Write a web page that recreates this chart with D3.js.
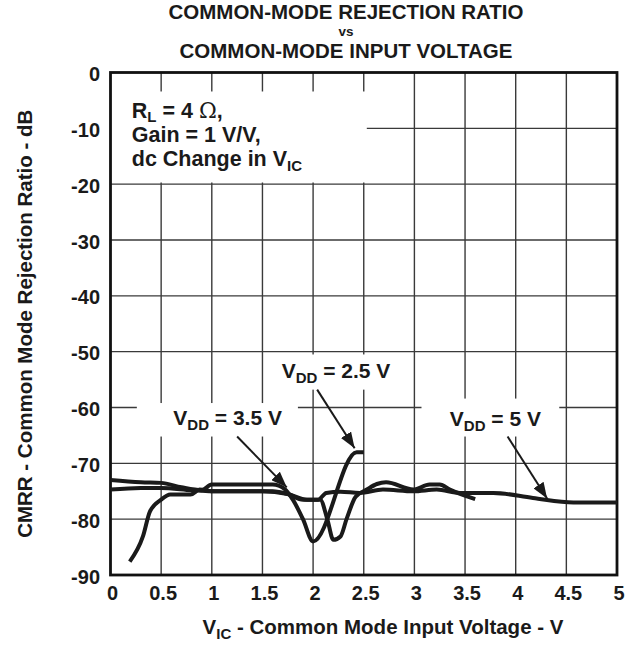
<!doctype html>
<html lang='en'>

<head>
    <meta charset='UTF-8'>
    <title>CMRR vs Common-Mode Input Voltage</title>
    <style>
        html,
        body {
            margin: 0;
            background: #fff;
        }

        svg {
            display: block;
        }

        text {
            font-family: "Liberation Sans", Arial, Helvetica, sans-serif;
            font-weight: bold;
            fill: #1a1a1a;
        }
    </style>
</head>

<body>
    <script src='https://d3js.org/d3.v7.min.js'></script>
    <div class='chart'></div>
    <script>
        // Axis ticks
        const xTicks = [0, 0.5, 1, 1.5, 2, 2.5, 3, 3.5, 4, 4.5, 5];
        const xTickLabels = ['0', '0.5', '1', '1.5', '2', '2.5', '3', '3.5', '4', '4.5', '5'];
        const yTicks = [0, -10, -20, -30, -40, -50, -60, -70, -80, -90];
        const yTickLabels = ['0', '-10', '-20', '-30', '-40', '-50', '-60', '-70', '-80', '-90'];

        // Curves: [V_IC (V), CMRR (dB)]
        const vdd25 = [
            [0, -73.0], [0.3, -73.4], [0.5, -73.5], [0.7, -74.3], [0.9, -74.8],
            [1.0, -73.8], [1.6, -73.8], [1.72, -74.6], [1.8, -76.5], [1.9, -80.0],
            [2.0, -84.0], [2.43, -68.0], [2.5, -68.0]
        ];
        const vdd35 = [
            [0, -74.7], [0.3, -74.4], [0.5, -74.4], [0.8, -74.8], [1.0, -75.0],
            [1.6, -75.0], [1.75, -75.5], [1.9, -76.5], [2.07, -76.5], [2.14, -80.0],
            [2.2, -83.7], [2.27, -83.1], [2.33, -80.0], [2.42, -76.0], [2.53, -74.7],
            [2.63, -73.7], [2.72, -73.4], [2.99, -74.7], [3.15, -73.8], [3.25, -73.8],
            [3.35, -74.7], [3.6, -76.4]
        ];
        const vdd5 = [
            [0.19, -87.6], [0.32, -83.1], [0.39, -78.6], [0.5, -76.5], [0.59, -75.6],
            [0.79, -75.6], [0.88, -74.7], [1.0, -75.0], [1.5, -75.0], [1.75, -75.5],
            [1.94, -76.5], [2.05, -76.5], [2.13, -75.3], [2.27, -75.1], [2.46, -75.3],
            [2.69, -74.7], [2.99, -75.0], [3.22, -74.7], [3.45, -75.3], [3.78, -75.3],
            [4.17, -76.2], [4.57, -77.0], [5.0, -77.0]
        ];

        const config = {
            width: 638,
            height: 646,
            plot: { left: 110.5, right: 617, top: 72.5, bottom: 575 },
            gridColor: '#3a3a3a',
            lineColor: '#1a1a1a',
            subSize: '15px'
        };

        const svg = d3.select('.chart')
            .append('svg')
            .attr('width', config.width)
            .attr('height', config.height);

        const x = d3.scaleLinear().domain([0, 5]).range([config.plot.left, config.plot.right]);
        const y = d3.scaleLinear().domain([-90, 0]).range([config.plot.bottom, config.plot.top]);

        // arrow head
        svg.append('defs').append('marker')
            .attr('id', 'arrow')
            .attr('markerUnits', 'userSpaceOnUse')
            .attr('viewBox', '0 -6 16 12')
            .attr('refX', 16)
            .attr('refY', 0)
            .attr('markerWidth', 16)
            .attr('markerHeight', 12)
            .attr('orient', 'auto')
            .append('path')
            .attr('d', 'M0,-6L16,0L0,6Z')
            .attr('fill', config.lineColor);

        // grid
        const grid = svg.append('g');
        grid.selectAll('.vgrid')
            .data(xTicks.slice(1, -1))
            .enter().append('line')
            .attr('x1', (d) => x(d)).attr('x2', (d) => x(d))
            .attr('y1', y(0)).attr('y2', y(-90))
            .attr('stroke', config.gridColor)
            .attr('stroke-width', 1.4);
        grid.selectAll('.hgrid')
            .data(yTicks.slice(1, -1))
            .enter().append('line')
            .attr('x1', x(0)).attr('x2', x(5))
            .attr('y1', (d) => y(d)).attr('y2', (d) => y(d))
            .attr('stroke', config.gridColor)
            .attr('stroke-width', 1.4);

        // white boxes behind the notes (data units)
        const boxes = [
            { x0: 0, x1: 2.53, y0: -3.4, y1: -19.7 },
            { x0: 1.63, x1: 2.86, y0: -50.5, y1: -56.8 },
            { x0: 0.26, x1: 1.85, y0: -59.2, y1: -65.2 },
            { x0: 3.07, x1: 4.43, y0: -58.4, y1: -65.2 }
        ];
        svg.append('g').selectAll('rect')
            .data(boxes)
            .enter().append('rect')
            .attr('x', (d) => x(d.x0))
            .attr('y', (d) => y(d.y0))
            .attr('width', (d) => x(d.x1) - x(d.x0))
            .attr('height', (d) => y(d.y1) - y(d.y0))
            .attr('fill', '#fff');

        // frame
        svg.append('rect')
            .attr('x', x(0)).attr('y', y(0))
            .attr('width', x(5) - x(0)).attr('height', y(-90) - y(0))
            .attr('fill', 'none')
            .attr('stroke', '#111')
            .attr('stroke-width', 2.8);

        // curves
        const line = d3.line()
            .x((d) => x(d[0]))
            .y((d) => y(d[1]))
            .curve(d3.curveMonotoneX);

        svg.append('g').selectAll('path')
            .data([vdd5, vdd35, vdd25])
            .enter().append('path')
            .attr('d', (d) => line(d))
            .attr('fill', 'none')
            .attr('stroke', config.lineColor)
            .attr('stroke-width', 4)
            .attr('stroke-linejoin', 'round')
            .attr('stroke-linecap', 'butt');

        // leader arrows (data units)
        const arrows = [
            { from: [2.04, -56.8], to: [2.41, -67.3] },
            { from: [1.25, -65.2], to: [1.74, -74.3] },
            { from: [3.92, -65.2], to: [4.31, -76.3] }
        ];
        svg.append('g').selectAll('line')
            .data(arrows)
            .enter().append('line')
            .attr('x1', (d) => x(d.from[0])).attr('y1', (d) => y(d.from[1]))
            .attr('x2', (d) => x(d.to[0])).attr('y2', (d) => y(d.to[1]))
            .attr('stroke', config.lineColor)
            .attr('stroke-width', 2)
            .attr('marker-end', 'url(#arrow)');

        // tick labels
        svg.append('g').selectAll('text')
            .data(xTicks)
            .enter().append('text')
            .attr('x', (d) => x(d) + 2)
            .attr('y', 600)
            .attr('text-anchor', 'middle')
            .style('font-size', '20px')
            .text((d, i) => xTickLabels[i]);

        svg.append('g').selectAll('text')
            .data(yTicks)
            .enter().append('text')
            .attr('x', 100)
            .attr('y', (d) => y(d) + 8.5)
            .attr('text-anchor', 'end')
            .style('font-size', '20px')
            .text((d, i) => yTickLabels[i]);

        // title
        const title = svg.append('g').attr('text-anchor', 'middle');
        title.append('text').attr('x', 346).attr('y', 18.5)
            .style('font-size', '20.5px').text('COMMON-MODE REJECTION RATIO');
        title.append('text').attr('x', 346).attr('y', 36)
            .style('font-size', '13.5px').text('vs');
        title.append('text').attr('x', 346).attr('y', 57.5)
            .style('font-size', '20.5px').text('COMMON-MODE INPUT VOLTAGE');

        // axis titles
        const xTitle = svg.append('text')
            .attr('x', 383).attr('y', 634)
            .attr('text-anchor', 'middle')
            .style('font-size', '20.5px');
        xTitle.append('tspan').text('V');
        xTitle.append('tspan').attr('dy', 5).style('font-size', config.subSize).text('IC');
        xTitle.append('tspan').attr('dy', -5).text(' - Common Mode Input Voltage - V');

        svg.append('text')
            .attr('transform', 'translate(32,' + (y(-45)) + ') rotate(-90)')
            .attr('text-anchor', 'middle')
            .style('font-size', '20.5px')
            .text('CMRR - Common Mode Rejection Ratio - dB');

        // conditions note
        const note = svg.append('g').style('font-size', '21.5px');
        const rl = note.append('text').attr('x', x(0.21)).attr('y', y(-8.1));
        rl.append('tspan').text('R');
        rl.append('tspan').attr('dy', 4).style('font-size', config.subSize).text('L');
        rl.append('tspan').attr('dy', -4).text(' = 4 ');
        rl.append('tspan').style('font-weight', 'normal')
            .style('font-family', '"DejaVu Serif", serif').text('Ω');
        rl.append('tspan').text(',');
        note.append('text').attr('x', x(0.21)).attr('y', y(-12.5)).text('Gain = 1 V/V,');
        const dc = note.append('text').attr('x', x(0.21)).attr('y', y(-16.8));
        dc.append('tspan').text('dc Change in V');
        dc.append('tspan').attr('dy', 5).style('font-size', config.subSize).text('IC');

        // supply labels
        const supplyLabels = [
            { at: [1.69, -54.7], value: ' = 2.5 V' },
            { at: [0.62, -63.1], value: ' = 3.5 V' },
            { at: [3.35, -63.4], value: ' = 5 V' }
        ];
        supplyLabels.forEach((d) => {
            const t = svg.append('text')
                .attr('x', x(d.at[0])).attr('y', y(d.at[1]))
                .style('font-size', '21px');
            t.append('tspan').text('V');
            t.append('tspan').attr('dy', 5).style('font-size', config.subSize).text('DD');
            t.append('tspan').attr('dy', -5).text(d.value);
        });
    </script>
</body>

</html>
